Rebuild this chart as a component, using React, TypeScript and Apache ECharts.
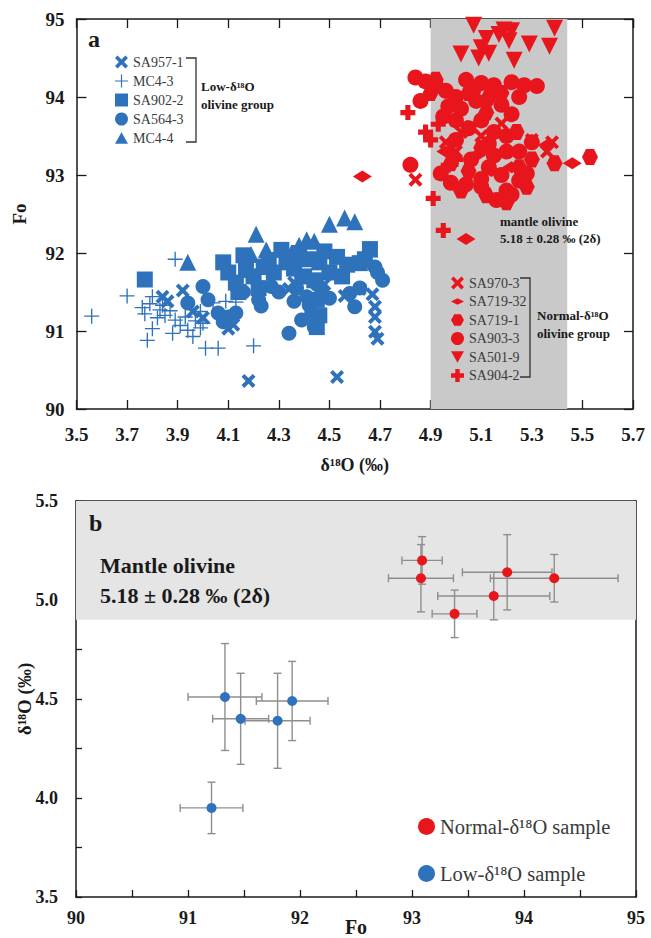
import React, { useEffect, useRef } from 'react';
import * as echarts from 'echarts';

// ---------- Panel a data: [δ18O (‰), Fo] ----------
const sa957_1 = [
  [4.18, 90.36], [4.53, 90.41], [3.84, 91.44], [3.92, 91.52], [3.96, 91.25], [4.0, 91.17],
  [4.1, 91.03], [4.12, 91.08], [3.86, 91.38], [4.34, 91.54], [4.36, 91.62], [4.62, 91.54],
  [4.67, 91.47], [4.68, 91.31], [4.68, 91.18], [4.68, 90.99], [4.69, 90.9], [4.56, 91.45], [4.48, 91.6],
];
const mc4_3 = [
  [3.56, 91.19], [3.7, 91.45], [3.78, 90.88], [3.8, 91.03], [3.76, 91.3], [3.77, 91.22], [3.8, 91.44],
  [3.83, 91.27], [3.85, 91.2], [3.88, 90.97], [3.89, 91.14], [3.89, 91.92], [3.94, 91.01], [3.96, 90.93],
  [3.99, 91.04], [4.01, 90.78], [4.06, 90.78], [4.2, 90.81], [4.04, 91.36], [4.09, 91.38], [4.13, 91.37],
  [3.91, 91.07], [3.99, 91.25], [3.82, 91.17], [3.87, 91.26], [3.93, 91.18], [4.0, 91.1], [3.97, 91.13],
  [4.41, 91.92], [3.84, 91.33], [3.79, 91.35],
];
const sa902_2 = [
  [3.77, 91.66], [4.08, 91.88], [4.1, 91.75], [4.13, 91.62], [4.16, 91.97], [4.17, 91.78], [4.14, 91.5],
  [4.2, 91.7], [4.22, 91.55], [4.26, 91.91], [4.28, 91.75], [4.31, 92.04], [4.33, 91.88], [4.38, 92.0],
  [4.36, 91.8], [4.42, 91.92], [4.46, 91.88], [4.48, 92.02], [4.5, 91.75], [4.53, 91.95], [4.57, 91.85],
  [4.62, 91.87], [4.66, 92.05], [4.64, 91.92], [4.44, 91.65], [4.45, 91.4], [4.46, 91.2], [4.45, 91.05],
  [4.24, 91.82], [4.4, 91.7], [4.55, 91.7],
];
const sa564_3 = [
  [3.94, 91.36], [4.0, 91.57], [4.02, 91.4], [4.06, 91.23], [4.1, 91.18], [4.13, 91.23], [4.08, 91.12],
  [4.22, 91.4], [4.27, 91.57], [4.23, 91.32], [4.34, 90.97], [4.37, 91.55], [4.39, 91.69], [4.41, 91.44],
  [4.43, 91.23], [4.39, 91.14], [4.47, 91.48], [4.45, 91.6], [4.5, 91.42], [4.58, 91.48], [4.6, 91.31],
  [4.62, 91.55], [4.68, 91.82], [4.71, 91.65], [4.69, 91.75], [4.3, 91.5], [4.44, 91.05], [4.16, 91.5],
  [4.42, 91.33], [4.36, 91.38],
];
const mc4_4 = [
  [3.94, 91.88], [4.21, 92.24], [4.5, 92.37], [4.56, 92.45], [4.6, 92.4], [4.41, 92.17], [4.44, 92.15],
  [4.25, 92.04], [4.66, 92.05], [4.35, 92.0], [4.19, 91.98], [4.38, 92.1],
];
const sa970_3 = [
  [4.84, 92.94], [5.06, 93.62], [5.38, 93.42], [5.0, 93.3], [5.1, 93.5], [4.96, 93.42], [5.12, 93.85],
  [5.3, 93.45], [5.02, 93.55], [5.18, 93.66], [5.36, 93.3],
];
const sa719_32 = [
  [4.63, 92.98], [5.04, 92.18], [5.46, 93.15], [5.36, 93.38], [5.08, 93.25], [5.14, 93.05], [5.22, 93.1], [4.96, 93.3],
];
const sa719_1 = [
  [5.53, 93.23], [5.39, 93.15], [5.12, 92.74], [5.2, 92.65], [5.02, 92.8], [5.25, 93.1], [5.1, 93.35],
  [4.98, 93.15], [5.18, 94.05], [5.05, 94.05], [4.92, 94.22], [5.24, 93.55], [5.12, 93.8], [5.3, 93.2],
  [5.05, 93.05], [5.28, 92.85], [4.9, 94.05], [5.13, 94.0],
];
const sa903_3 = [
  [4.84, 94.25], [4.88, 94.2], [4.92, 94.15], [4.96, 94.08], [5.04, 94.22], [5.1, 94.18], [5.15, 94.15],
  [5.22, 94.19], [5.27, 94.15], [5.32, 94.14], [5.0, 94.0], [5.08, 93.95], [5.18, 93.9], [5.22, 93.78],
  [4.86, 93.95], [4.82, 93.13], [4.94, 93.02], [4.98, 92.9], [5.04, 92.88], [5.1, 92.95], [5.16, 92.68],
  [5.2, 92.8], [5.25, 92.93], [5.28, 93.02], [5.3, 93.42], [5.13, 93.1], [5.06, 93.2], [5.2, 93.3],
  [5.15, 93.55], [5.0, 93.7], [4.97, 93.88], [5.05, 93.6], [4.95, 93.75], [5.02, 93.85], [5.1, 93.7],
  [5.2, 93.5], [5.25, 93.3], [5.15, 93.25], [5.18, 93.0], [5.1, 92.85], [5.07, 94.1], [5.25, 94.0],
  [5.22, 92.75], [5.0, 93.45], [5.13, 93.4],
];
const sa501_9 = [
  [5.07, 94.92], [5.12, 94.75], [5.19, 94.86], [5.21, 94.72], [5.22, 94.85], [5.29, 94.68], [5.37, 94.65],
  [5.39, 94.88], [5.02, 94.55], [5.09, 94.5], [5.13, 94.56], [5.23, 94.47], [5.17, 94.8], [5.1, 94.63],
];
const sa904_2 = [
  [4.81, 93.8], [4.9, 93.45], [4.91, 92.7], [4.95, 92.29], [4.95, 93.06], [4.88, 93.55], [5.0, 93.2], [4.93, 93.65],
];
const mantleBandA = [4.9, 5.44];

// ---------- Panel b data: [Fo, δ18O, ±Fo, ±δ18O] ----------
const normalSamples = [
  [93.09, 5.2, 0.18, 0.12],
  [93.08, 5.11, 0.29, 0.17],
  [93.38, 4.93, 0.2, 0.12],
  [93.73, 5.02, 0.5, 0.12],
  [93.85, 5.14, 0.4, 0.19],
  [94.27, 5.11, 0.57, 0.12],
];
const lowSamples = [
  [91.21, 3.95, 0.28, 0.13],
  [91.33, 4.51, 0.33, 0.27],
  [91.47, 4.4, 0.25, 0.23],
  [91.8, 4.39, 0.29, 0.24],
  [91.93, 4.49, 0.32, 0.2],
];
const mantleBandB = [4.9, 5.5];

// tick labels
const xTicksA = ['3.5', '3.7', '3.9', '4.1', '4.3', '4.5', '4.7', '4.9', '5.1', '5.3', '5.5', '5.7'];

const X_SHIFT = 0.1; // panel-a x axis origin shift so that min is a multiple of the interval

const BLUE = '#2e72bb';
const RED = '#e8161c';
const SERIF = '"Liberation Serif", "Times New Roman", serif';

const SYM_X = 'path://M2,0 L5,3 L8,0 L10,2 L7,5 L10,8 L8,10 L5,7 L2,10 L0,8 L3,5 L0,2 Z';
const SYM_THIN_PLUS = 'path://M0,4.55 L10,4.55 L10,5.45 L0,5.45 Z M4.55,0 L5.45,0 L5.45,10 L4.55,10 Z';
const SYM_BOLD_PLUS = 'path://M3.3,0 L6.7,0 L6.7,3.3 L10,3.3 L10,6.7 L6.7,6.7 L6.7,10 L3.3,10 L3.3,6.7 L0,6.7 L0,3.3 L3.3,3.3 Z';
const SYM_HEX = 'path://M0,5 L2.5,0.67 L7.5,0.67 L10,5 L7.5,9.33 L2.5,9.33 Z';
const SYM_DOWN = 'path://M0,0 L10,0 L5,8.66 Z';
const SYM_UP = 'path://M0,8.66 L10,8.66 L5,0 Z';
const SYM_DIAMOND = 'path://M0,3 L6,0 L12,3 L6,6 Z';

const App: React.FC = () => {
  const ref = useRef<HTMLDivElement>(null);

  useEffect(() => {
    document.body.style.margin = '0';
    if (!ref.current) return;
    const chart = echarts.init(ref.current, undefined, { renderer: 'svg' });

    const shift = (arr: number[][]) => arr.map((d) => [d[0] - X_SHIFT, d[1]]);

    const seriesA: any[] = [
      { name: 'SA564-3', data: sa564_3, symbol: 'circle', size: 15, color: BLUE },
      { name: 'SA902-2', data: sa902_2, symbol: 'rect', size: 16, color: BLUE },
      { name: 'MC4-4', data: mc4_4, symbol: SYM_UP, size: 17, color: BLUE },
      { name: 'SA957-1', data: sa957_1, symbol: SYM_X, size: 14, color: BLUE },
      { name: 'MC4-3', data: mc4_3, symbol: SYM_THIN_PLUS, size: 15, color: BLUE },
      { name: 'SA903-3', data: sa903_3, symbol: 'circle', size: 16, color: RED },
      { name: 'SA719-1', data: sa719_1, symbol: SYM_HEX, size: 16, color: RED },
      { name: 'SA719-32', data: sa719_32, symbol: SYM_DIAMOND, size: [19, 12], color: RED },
      { name: 'SA970-3', data: sa970_3, symbol: SYM_X, size: 14, color: RED },
      { name: 'SA904-2', data: sa904_2, symbol: SYM_BOLD_PLUS, size: 15, color: RED },
      { name: 'SA501-9', data: sa501_9, symbol: SYM_DOWN, size: 17, color: RED },
    ].map((s) => ({
      type: 'scatter',
      name: s.name,
      xAxisIndex: 0,
      yAxisIndex: 0,
      data: shift(s.data),
      symbol: s.symbol,
      symbolSize: s.size,
      itemStyle: { color: s.color, opacity: 1 },
      z: 3,
    }));

    seriesA.unshift({
      type: 'scatter',
      name: 'bandA',
      xAxisIndex: 0,
      yAxisIndex: 0,
      data: [],
      silent: true,
      z: 1,
      markArea: {
        silent: true,
        itemStyle: { color: '#c9c9c9', opacity: 1 },
        data: [[{ xAxis: mantleBandA[0] - X_SHIFT }, { xAxis: mantleBandA[1] - X_SHIFT }]],
      },
    });

    const errStyle = { stroke: '#8e8e8e', lineWidth: 1.4 };
    const errorBars = (data: number[][], name: string) => ({
      type: 'custom',
      name: name + '-err',
      xAxisIndex: 2,
      yAxisIndex: 2,
      data,
      encode: { x: 0, y: 1 },
      silent: true,
      z: 2,
      renderItem: (_p: any, api: any) => {
        const x = api.value(0), y = api.value(1), ex = api.value(2), ey = api.value(3);
        const l = api.coord([x - ex, y]);
        const r = api.coord([x + ex, y]);
        const t = api.coord([x, y + ey]);
        const b = api.coord([x, y - ey]);
        const cap = 4;
        const ln = (x1: number, y1: number, x2: number, y2: number) => ({
          type: 'line',
          shape: { x1, y1, x2, y2 },
          style: errStyle,
        });
        return {
          type: 'group',
          children: [
            ln(l[0], l[1], r[0], r[1]),
            ln(l[0], l[1] - cap, l[0], l[1] + cap),
            ln(r[0], r[1] - cap, r[0], r[1] + cap),
            ln(t[0], t[1], b[0], b[1]),
            ln(t[0] - cap, t[1], t[0] + cap, t[1]),
            ln(b[0] - cap, b[1], b[0] + cap, b[1]),
          ],
        };
      },
    });

    const seriesB: any[] = [
      {
        type: 'scatter',
        name: 'bandB',
        xAxisIndex: 2,
        yAxisIndex: 2,
        data: [],
        silent: true,
        z: 1,
        markArea: {
          silent: true,
          itemStyle: { color: '#e5e5e5', opacity: 1 },
          data: [[{ yAxis: mantleBandB[0] }, { yAxis: mantleBandB[1] }]],
        },
      },
      errorBars(normalSamples, 'normal'),
      errorBars(lowSamples, 'low'),
      {
        type: 'scatter',
        name: 'Normal-δ¹⁸O sample',
        xAxisIndex: 2,
        yAxisIndex: 2,
        data: normalSamples.map((d) => [d[0], d[1]]),
        symbol: 'circle',
        symbolSize: 10,
        itemStyle: { color: RED, opacity: 1 },
        z: 3,
      },
      {
        type: 'scatter',
        name: 'Low-δ¹⁸O sample',
        xAxisIndex: 2,
        yAxisIndex: 2,
        data: lowSamples.map((d) => [d[0], d[1]]),
        symbol: 'circle',
        symbolSize: 10,
        itemStyle: { color: BLUE, opacity: 1 },
        z: 3,
      },
    ];

    const axisLine = { show: true, onZero: false, lineStyle: { color: '#1a1a1a', width: 1.5 } };
    const tickIn = (len: number) => ({ show: true, inside: true, length: len, lineStyle: { color: '#1a1a1a', width: 1.3 } });
    const lblStyle = (size: number, margin: number) => ({
      fontFamily: SERIF,
      fontWeight: 'bold' as const,
      fontSize: size,
      color: '#1a1a1a',
      margin,
    });
    const nameStyle = (size: number) => ({ fontFamily: SERIF, fontWeight: 'bold' as const, fontSize: size, color: '#1a1a1a' });

    const legendText = { fontFamily: SERIF, fontSize: 14, color: '#3a3a3a' };
    const txt = (text: string, left: number, top: number, size: number) => ({
      type: 'text',
      left,
      top,
      z: 100,
      style: { text, font: `bold ${size}px ${SERIF}`, fill: '#1a1a1a' },
    });

    const option: any = {
      animation: false,
      backgroundColor: '#ffffff',
      grid: [
        { left: 76.5, top: 19, width: 556.5, height: 390, outerBoundsMode: 'none' },
        { left: 76, top: 501, width: 560, height: 396, outerBoundsMode: 'none' },
      ],
      xAxis: [
        {
          type: 'value',
          gridIndex: 0,
          position: 'bottom',
          min: 3.5 - X_SHIFT,
          max: 5.7 - X_SHIFT,
          interval: 0.2,
          axisLine,
          axisTick: tickIn(9),
          splitLine: { show: false },
          axisLabel: {
            ...lblStyle(19, 16),
            formatter: (v: number) => {
              const i = Math.round((v - (3.5 - X_SHIFT)) / 0.2);
              return xTicksA[i] ?? '';
            },
          },
          name: 'δ¹⁸O (‰)',
          nameLocation: 'middle',
          nameGap: 47,
          nameMoveOverlap: false,
          nameTextStyle: nameStyle(18),
        },
        {
          type: 'value',
          gridIndex: 0,
          position: 'top',
          min: 3.5 - X_SHIFT,
          max: 5.7 - X_SHIFT,
          interval: 0.2,
          axisLine,
          axisTick: tickIn(9),
          splitLine: { show: false },
          axisLabel: { show: false },
        },
        {
          type: 'value',
          gridIndex: 1,
          position: 'bottom',
          min: 90,
          max: 95,
          interval: 0.5,
          axisLine,
          axisTick: tickIn(7),
          splitLine: { show: false },
          axisLabel: {
            ...lblStyle(18, 12),
            formatter: (v: number) => (Math.abs(v - Math.round(v)) < 1e-6 ? String(Math.round(v)) : ''),
          },
          name: 'Fo',
          nameLocation: 'middle',
          nameGap: 20,
          nameMoveOverlap: false,
          nameTextStyle: nameStyle(20),
        },
        {
          type: 'value',
          gridIndex: 1,
          position: 'top',
          min: 90,
          max: 95,
          interval: 0.5,
          axisLine,
          axisTick: { show: false },
          splitLine: { show: false },
          axisLabel: { show: false },
        },
      ],
      yAxis: [
        {
          type: 'value',
          gridIndex: 0,
          position: 'left',
          min: 90,
          max: 95,
          interval: 1,
          axisLine,
          axisTick: tickIn(10),
          splitLine: { show: false },
          axisLabel: { ...lblStyle(19, 12) },
          name: 'Fo',
          nameLocation: 'middle',
          nameGap: 48,
          nameMoveOverlap: false,
          nameTextStyle: nameStyle(19),
        },
        {
          type: 'value',
          gridIndex: 0,
          position: 'right',
          min: 90,
          max: 95,
          interval: 1,
          axisLine,
          axisTick: tickIn(9),
          splitLine: { show: false },
          axisLabel: { show: false },
        },
        {
          type: 'value',
          gridIndex: 1,
          position: 'left',
          min: 3.5,
          max: 5.5,
          interval: 0.25,
          axisLine,
          axisTick: tickIn(6),
          splitLine: { show: false },
          axisLabel: {
            ...lblStyle(18, 18),
            formatter: (v: number) => (Math.abs(v * 2 - Math.round(v * 2)) < 1e-6 ? v.toFixed(1) : ''),
          },
          name: 'δ¹⁸O (‰)',
          nameLocation: 'middle',
          nameGap: 42,
          nameMoveOverlap: false,
          nameTextStyle: nameStyle(19),
        },
        {
          type: 'value',
          gridIndex: 1,
          position: 'right',
          min: 3.5,
          max: 5.5,
          interval: 0.25,
          axisLine,
          axisTick: { show: false },
          splitLine: { show: false },
          axisLabel: { show: false },
        },
      ],
      legend: [
        {
          orient: 'vertical',
          left: 110,
          top: 50,
          itemWidth: 13,
          itemHeight: 13,
          itemGap: 5,
          selectedMode: false,
          textStyle: legendText,
          z: 50,
          data: [
            { name: 'SA957-1', icon: SYM_X },
            { name: 'MC4-3', icon: SYM_THIN_PLUS },
            { name: 'SA902-2', icon: 'rect' },
            { name: 'SA564-3', icon: 'circle' },
            { name: 'MC4-4', icon: SYM_UP },
          ],
        },
        {
          orient: 'vertical',
          left: 446,
          top: 271,
          itemWidth: 13,
          itemHeight: 13,
          itemGap: 4.5,
          selectedMode: false,
          textStyle: legendText,
          z: 50,
          data: [
            { name: 'SA970-3', icon: SYM_X },
            { name: 'SA719-32', icon: SYM_DIAMOND },
            { name: 'SA719-1', icon: SYM_HEX },
            { name: 'SA903-3', icon: 'circle' },
            { name: 'SA501-9', icon: SYM_DOWN },
            { name: 'SA904-2', icon: SYM_BOLD_PLUS },
          ],
        },
        {
          orient: 'vertical',
          left: 413,
          top: 811,
          itemWidth: 17,
          itemHeight: 17,
          itemGap: 26,
          selectedMode: false,
          textStyle: { fontFamily: SERIF, fontSize: 20.5, color: '#3a3a3a' },
          z: 50,
          data: [
            { name: 'Normal-δ¹⁸O sample', icon: 'circle' },
            { name: 'Low-δ¹⁸O sample', icon: 'circle' },
          ],
        },
      ],
      graphic: [
        txt('a', 88, 27, 24),
        {
          type: 'polyline',
          z: 100,
          shape: { points: [[186, 58], [196, 58], [196, 142], [186, 142]] },
          style: { stroke: '#333', lineWidth: 1.3, fill: 'none' },
        },
        txt('Low-δ¹⁸O', 201, 80, 13),
        txt('olivine group', 201, 98, 13),
        txt('mantle olivine', 500, 215, 13),
        txt('5.18 ± 0.28 ‰ (2δ)', 500, 232, 13),
        {
          type: 'polyline',
          z: 100,
          shape: { points: [[520, 278], [530, 278], [530, 377], [520, 377]] },
          style: { stroke: '#333', lineWidth: 1.3, fill: 'none' },
        },
        txt('Normal-δ¹⁸O', 537, 309, 13),
        txt('olivine group', 537, 327, 13),
        txt('b', 89, 511, 24),
        txt('Mantle olivine', 100, 554, 22),
        txt('5.18 ± 0.28 ‰ (2δ)', 100, 584, 22),
      ],
      series: [...seriesA, ...seriesB],
    };

    chart.setOption(option);
    return () => chart.dispose();
  }, []);

  return <div ref={ref} style={{ width: 651, height: 938 }} />;
};

export default App;
